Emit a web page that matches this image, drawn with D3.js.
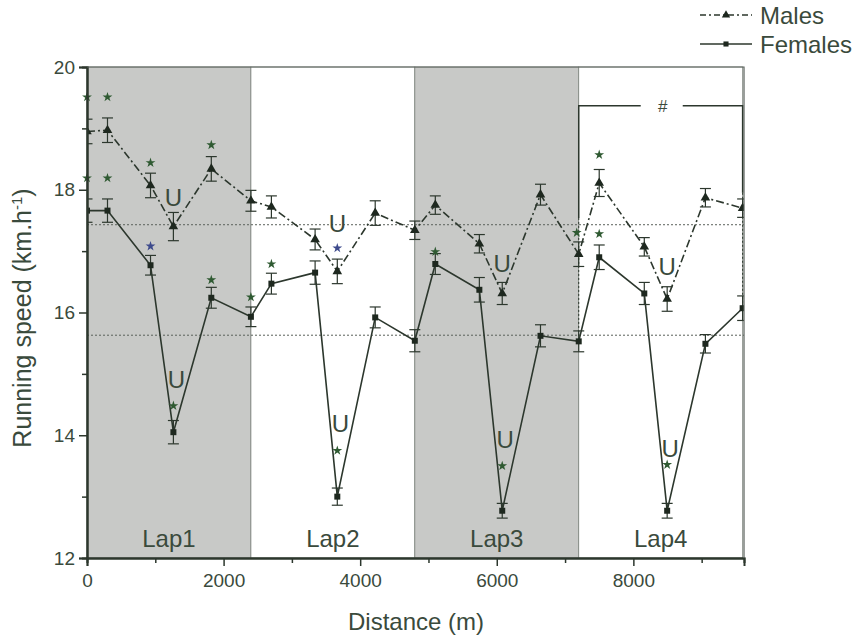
<!DOCTYPE html>
<html>
<head>
<meta charset="utf-8">
<style>
  body { margin: 0; background: #fff; }
  svg text { font-family: "Liberation Sans", Arial, sans-serif; fill: #3a4a3c; }
</style>
</head>
<body>
<div id="chart"></div>
<script src="https://cdnjs.cloudflare.com/ajax/libs/d3/7.8.5/d3.min.js"></script>
<script>
// distance of each split (m), 4 laps of 2400 m
var distance = [0, 300, 930, 1265, 1820, 2400, 2700, 3340, 3665, 4220, 4800, 5100, 5745, 6080, 6640, 7200, 7500, 8160, 8495, 9055, 9600];
var males = [18.95, 18.97, 18.07, 17.40, 18.34, 17.82, 17.72, 17.19, 16.67, 17.62, 17.34, 17.75, 17.12, 16.31, 17.92, 16.95, 18.11, 17.07, 16.22, 17.87, 17.70];
var malesErr = [0.2, 0.2, 0.2, 0.23, 0.2, 0.17, 0.18, 0.17, 0.2, 0.2, 0.15, 0.15, 0.15, 0.18, 0.17, 0.2, 0.22, 0.15, 0.2, 0.15, 0.15];
var females = [17.66, 17.66, 16.77, 14.05, 16.24, 15.93, 16.47, 16.65, 13.00, 15.92, 15.54, 16.79, 16.37, 12.77, 15.62, 15.53, 16.90, 16.31, 12.77, 15.49, 16.07];
var femalesErr = [0.19, 0.19, 0.16, 0.19, 0.17, 0.16, 0.17, 0.19, 0.14, 0.17, 0.18, 0.17, 0.2, 0.12, 0.18, 0.17, 0.2, 0.18, 0.12, 0.15, 0.2];
var meanMales = 17.43;
var meanFemales = 15.63;

var laps = ['Lap1', 'Lap2', 'Lap3', 'Lap4'];
var lapLength = 2400;
var xTicks = [0, 2000, 4000, 6000, 8000];
var xMinor = [1000, 3000, 5000, 7000, 9000];
var yTicks = [12, 14, 16, 18, 20];
var yMinor = [13, 15, 17, 19];

// significance marks: split index + height (km/h)
var maleStars = [[0, 19.51], [1, 19.51], [2, 18.44], [4, 18.73], [8, 17.05], [15, 17.30], [16, 18.57]];
var femaleStars = [[0, 18.19], [1, 18.19], [2, 17.08], [3, 14.48], [4, 16.53], [5, 16.25], [6, 16.79], [8, 13.75], [11, 16.99], [13, 13.50], [16, 17.28], [18, 13.52]];
var blueStars = ['m8', 'f2'];
var maleU = [[3, 17.74], [8, 17.31], [13, 16.66], [18, 16.61]];
var femaleU = [[3, 14.77], [8, 14.06], [13, 13.79], [18, 13.65]];
var bracket = { from: 7200, to: 9600, y: 19.37, left: 17.54, right: 17.95, label: '#' };

var width = 861, height = 635;
var ink = '#2c372d';

var x = d3.scaleLinear().domain([0, 9620]).range([87, 744]);
var y = d3.scaleLinear().domain([12, 20]).range([558, 67]);

var svg = d3.select('#chart').append('svg')
  .attr('width', width)
  .attr('height', height);

svg.append('defs').append('clipPath').attr('id', 'plot')
  .append('rect')
  .attr('x', x(0)).attr('y', y(20))
  .attr('width', x(9620) - x(0)).attr('height', y(12) - y(20));

// grey laps
svg.selectAll('.lap')
  .data(laps)
  .enter().append('rect')
  .attr('x', function (d, i) { return x(i * lapLength); })
  .attr('y', y(20))
  .attr('width', x(lapLength) - x(0))
  .attr('height', y(12) - y(20))
  .attr('fill', function (d, i) { return i % 2 === 0 ? '#c8c9c7' : '#fff'; })
  .attr('stroke', '#7d847d')
  .attr('stroke-width', 0.8);

svg.selectAll('.lapLabel')
  .data(laps)
  .enter().append('text')
  .attr('x', function (d, i) { return x(i * lapLength + lapLength / 2); })
  .attr('y', 547)
  .attr('text-anchor', 'middle')
  .style('font-size', '24px')
  .text(function (d) { return d; });

// mean lines
svg.selectAll('.mean')
  .data([meanMales, meanFemales])
  .enter().append('line')
  .attr('x1', x(0)).attr('x2', x(9620))
  .attr('y1', function (d) { return y(d); })
  .attr('y2', function (d) { return y(d); })
  .attr('stroke', '#5a615a')
  .attr('stroke-width', 1)
  .attr('stroke-dasharray', '2,2');

// bracket for lap 4
var bx1 = x(bracket.from), bx2 = x(bracket.to), by = y(bracket.y);
var g = svg.append('g').attr('stroke', ink).attr('stroke-width', 1.5).attr('fill', 'none');
g.append('path').attr('d', 'M' + bx1 + ',' + y(bracket.left) + 'V' + by + 'H' + (x(8430) - 22));
g.append('path').attr('d', 'M' + (x(8430) + 20) + ',' + by + 'H' + bx2 + 'V' + y(bracket.right));
g.append('path').attr('d', 'M' + bx1 + ',' + y(bracket.left) + 'V' + y(females[15]))
  .attr('stroke-width', 1).attr('stroke-dasharray', '2,2');
g.append('path').attr('d', 'M' + bx2 + ',' + y(bracket.right) + 'V' + y(females[20]))
  .attr('stroke-width', 1).attr('stroke-dasharray', '2,2');
svg.append('text')
  .attr('x', x(8430)).attr('y', by + 6)
  .attr('text-anchor', 'middle')
  .style('font-size', '17px')
  .text(bracket.label);

// series
var plot = svg.append('g').attr('clip-path', 'url(#plot)');
var series = [
  { key: 'm', values: males, err: malesErr, dash: '8,3,2,3', shape: d3.symbolTriangle, size: 40 },
  { key: 'f', values: females, err: femalesErr, dash: null, shape: d3.symbolSquare, size: 36 }
];

series.forEach(function (s) {
  var line = d3.line()
    .x(function (d, i) { return x(distance[i]); })
    .y(function (d) { return y(d); });

  plot.append('path')
    .datum(s.values)
    .attr('d', line)
    .attr('fill', 'none')
    .attr('stroke', ink)
    .attr('stroke-width', 1.6)
    .attr('stroke-dasharray', s.dash);

  var eb = plot.append('g').attr('stroke', ink).attr('stroke-width', 1.2);
  s.values.forEach(function (v, i) {
    var cx = x(distance[i]);
    var top = y(v + s.err[i]), bot = y(v - s.err[i]);
    eb.append('line').attr('x1', cx).attr('x2', cx).attr('y1', top).attr('y2', bot);
    eb.append('line').attr('x1', cx - 5.5).attr('x2', cx + 5.5).attr('y1', top).attr('y2', top);
    eb.append('line').attr('x1', cx - 5.5).attr('x2', cx + 5.5).attr('y1', bot).attr('y2', bot);
  });

  plot.selectAll('.pt' + s.key)
    .data(s.values)
    .enter().append('path')
    .attr('d', d3.symbol().type(s.shape).size(s.size))
    .attr('transform', function (d, i) { return 'translate(' + x(distance[i]) + ',' + y(d) + ')'; })
    .attr('fill', '#1e281f');
});

// stars and U marks
function drawStars(list, key) {
  svg.selectAll('.star' + key)
    .data(list)
    .enter().append('path')
    .attr('d', d3.symbol().type(d3.symbolStar).size(30))
    .attr('transform', function (d) {
      var dx = (key === 'm' && d[0] === 15) ? -2 : 0;
      return 'translate(' + (x(distance[d[0]]) + dx) + ',' + y(d[1]) + ')';
    })
    .attr('fill', function (d) { return blueStars.indexOf(key + d[0]) >= 0 ? '#3d4a8c' : '#2f5a32'; });
}
drawStars(maleStars, 'm');
drawStars(femaleStars, 'f');

function drawU(list, dx) {
  list.forEach(function (d) {
    svg.append('text')
      .attr('x', x(distance[d[0]]) + dx)
      .attr('y', y(d[1]))
      .attr('text-anchor', 'middle')
      .style('font-size', '24px')
      .text('U');
  });
}
drawU(maleU, 0);
drawU(femaleU, 3);

// axes
svg.append('g')
  .attr('transform', 'translate(' + x(0) + ',0)')
  .call(d3.axisLeft(y).tickValues(yTicks).tickSize(8).tickPadding(4));
svg.append('g')
  .attr('transform', 'translate(' + x(0) + ',0)')
  .call(d3.axisLeft(y).tickValues(yMinor).tickSize(5).tickFormat(''));
svg.append('g')
  .attr('transform', 'translate(0,' + y(12) + ')')
  .call(d3.axisBottom(x).tickValues(xTicks).tickSize(8).tickPadding(8).tickFormat(d3.format('d')));
svg.append('g')
  .attr('transform', 'translate(0,' + y(12) + ')')
  .call(d3.axisBottom(x).tickValues(xMinor).tickSize(5).tickFormat(''));

svg.selectAll('.domain').attr('stroke', ink).attr('stroke-width', 2);
svg.selectAll('.tick line').attr('stroke', ink).attr('stroke-width', 1.5);
svg.selectAll('.tick text')
  .style('font-size', '19px')
  .style('font-family', '"Liberation Sans", Arial, sans-serif')
  .attr('fill', '#3a4a3c');

// top and right frame
svg.append('path')
  .attr('d', 'M' + x(0) + ',' + y(20) + 'H' + x(9620) + 'V' + y(12))
  .attr('fill', 'none')
  .attr('stroke', '#59605a')
  .attr('stroke-width', 1.2);

// axis titles
svg.append('text')
  .attr('x', 416).attr('y', 630)
  .attr('text-anchor', 'middle')
  .style('font-size', '24px')
  .text('Distance (m)');

var yl = svg.append('text')
  .attr('transform', 'translate(31,318) rotate(-90)')
  .attr('text-anchor', 'middle')
  .style('font-size', '25px');
yl.append('tspan').text('Running speed (km.h');
yl.append('tspan').attr('dy', -9).style('font-size', '15px').text('-1');
yl.append('tspan').attr('dy', 9).text(')');

// legend
var legend = [
  { name: 'Males', dash: '6,3,2,3', shape: d3.symbolTriangle, size: 30, ly: 15 },
  { name: 'Females', dash: null, shape: d3.symbolSquare, size: 26, ly: 44 }
];
legend.forEach(function (l) {
  svg.append('line')
    .attr('x1', 700).attr('x2', 752)
    .attr('y1', l.ly).attr('y2', l.ly)
    .attr('stroke', ink).attr('stroke-width', 1.3)
    .attr('stroke-dasharray', l.dash);
  svg.append('path')
    .attr('d', d3.symbol().type(l.shape).size(l.size))
    .attr('transform', 'translate(726,' + l.ly + ')')
    .attr('fill', '#1e281f');
  svg.append('text')
    .attr('x', 760).attr('y', l.ly + 9)
    .style('font-size', '24px')
    .text(l.name);
});
</script>
</body>
</html>
